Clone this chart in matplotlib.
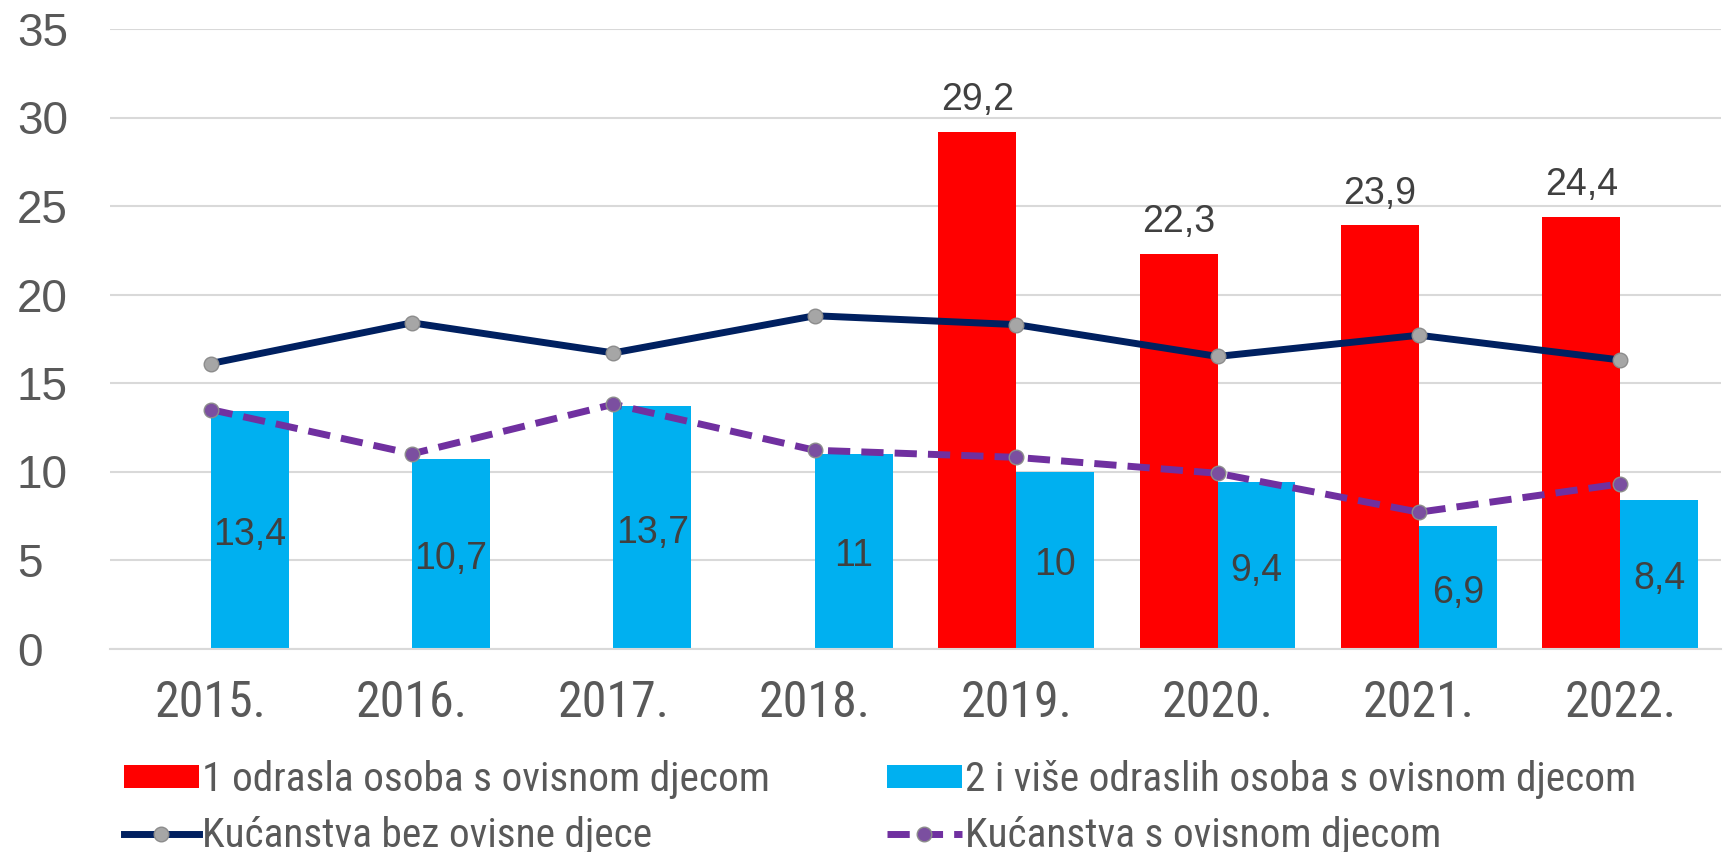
import matplotlib
matplotlib.use("Agg")
import matplotlib.pyplot as plt
import numpy as np
from matplotlib import font_manager

years = ["2015.", "2016.", "2017.", "2018.", "2019.", "2020.", "2021.", "2022."]
one_adult = [None, None, None, None, 29.2, 22.3, 23.9, 24.4]
two_plus = [13.4, 10.7, 13.7, 11, 10, 9.4, 6.9, 8.4]
no_children = [16.1, 18.4, 16.7, 18.8, 18.3, 16.5, 17.7, 16.3]
with_children = [13.5, 11.0, 13.8, 11.2, 10.8, 9.9, 7.7, 9.3]

labels_series = ["1 odrasla osoba s ovisnom djecom",
                 "2 i više odraslih osoba s ovisnom djecom",
                 "Kućanstva bez ovisne djece",
                 "Kućanstva s ovisnom djecom"]

names = {f.name for f in font_manager.fontManager.ttflist}
narrow = "Liberation Sans"
for cand in ["Liberation Sans Narrow", "Arimo Narrow", "Roboto Condensed", "Archivo Narrow", "PT Sans Narrow"]:
    if cand in names:
        narrow = cand
        break
plt.rcParams['font.family'] = ['Liberation Sans', 'DejaVu Sans']

RED = "#FF0000"
BLUE = "#00B0F0"
NAVY = "#002060"
PURPLE = "#7030A0"
TXT = "#595959"

fig = plt.figure(figsize=(17.25, 8.52), dpi=100)
ax = fig.add_axes([110/1725, 1-648.5/852, (1721-110)/1725, (648.5-29)/852])

x = np.arange(len(years))
w = 0.387
red_vals = [np.nan if v is None else v for v in one_adult]
b1 = ax.bar(x - w/2, red_vals, w, color=RED, label=labels_series[0], zorder=2)
b2 = ax.bar(x + w/2, two_plus, w, color=BLUE, label=labels_series[1], zorder=2)

l1, = ax.plot(x, no_children, color=NAVY, lw=5.0, marker='o', ms=10.5,
              mfc='#A6A6A6', mec='#8C8C8C', mew=1, label=labels_series[2], zorder=4)
l2, = ax.plot(x, with_children, color=PURPLE, lw=5.0, ls=(0, (3.2, 1.6)), marker='o', ms=10.5,
              mfc='#7B4FA0', mec='#8C8C8C', mew=1, label=labels_series[3], zorder=4)

for xi, v in zip(x, one_adult):
    if v is not None:
        ax.annotate(f"{v:g}".replace('.', ','), (xi - w/2, v), xytext=(0, 10),
                    textcoords='offset points', ha='center', va='bottom',
                    fontsize=27, color='#404040')
for xi, v in zip(x, two_plus):
    ax.text(xi + w/2, v/2 - 0.3, f"{v:g}".replace('.', ','), ha='center', va='center',
            fontsize=27, color='#404040', zorder=5)

ax.set_ylim(0, 35)
ax.set_xlim(-0.5, len(years) - 0.5)
ax.set_yticks(range(0, 36, 5))
ax.yaxis.grid(True, color='#D9D9D9', lw=1.5, zorder=0)
ax.set_axisbelow(True)
for s in ['left', 'right', 'top']:
    ax.spines[s].set_visible(False)
ax.spines['bottom'].set_color('#D9D9D9')
ax.spines['bottom'].set_linewidth(1.5)
ax.tick_params(axis='both', length=0, colors=TXT)
ax.tick_params(axis='y', labelsize=33, pad=67)
ax.tick_params(axis='x', pad=22)
ax.set_xticks(x)
ax.set_xticklabels(years, fontsize=36, family=narrow)
for t in ax.get_yticklabels():
    t.set_ha('left')

common = dict(loc='upper left', frameon=False, prop={'family': narrow, 'size': 29.8},
              handlelength=1.8, handleheight=0.5, handletextpad=0.08,
              labelspacing=0.42, borderaxespad=0, borderpad=0)
leg1 = fig.legend(handles=[b1, l1], labels=[labels_series[0], labels_series[2]],
                  bbox_to_anchor=(124/1725, 1-760/852), **common)
leg2 = fig.legend(handles=[b2, l2], labels=[labels_series[1], labels_series[3]],
                  bbox_to_anchor=(887/1725, 1-760/852), **common)
for lg in (leg1, leg2):
    for t in lg.get_texts():
        t.set_color(TXT)

fig.savefig("out.png", dpi=100)
